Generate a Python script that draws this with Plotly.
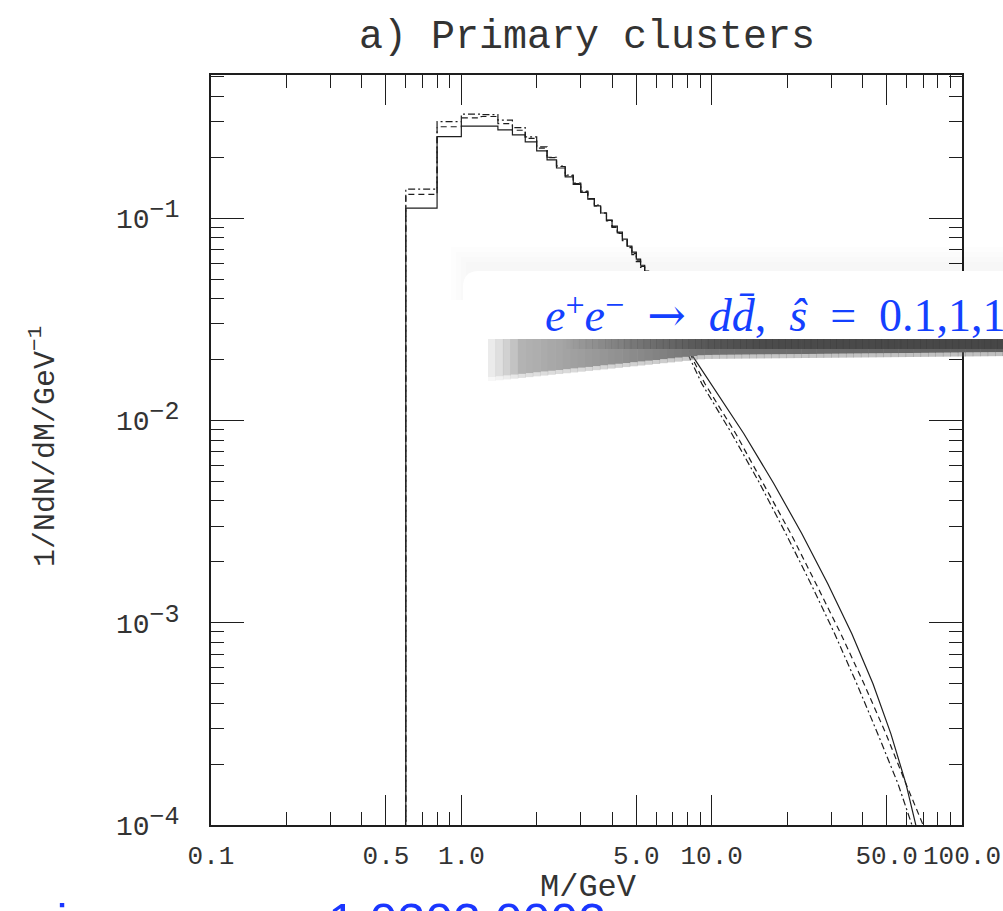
import plotly.graph_objects as go

# ---- data -------------------------------------------------------------
# histogram bin edges (GeV) for the low-mass region
bin_edges = [0.6, 0.8, 1.0, 1.2, 1.4, 1.6, 1.8, 2.0, 2.2, 2.4, 2.6, 2.8, 3.0, 3.2,
             3.4, 3.6, 3.8, 4.0, 4.2, 4.4, 4.6, 4.8, 5.0, 5.2, 5.4, 5.6, 5.8, 6.0]

# 1/N dN/dM per bin, three samples
solid_vals = [0.112, 0.253, 0.285, 0.285, 0.273, 0.258, 0.238, 0.215, 0.194, 0.177,
              0.160, 0.147, 0.134, 0.124, 0.115, 0.106, 0.0977, 0.0913, 0.0853, 0.0787,
              0.0727, 0.0679, 0.0627, 0.0585, 0.0547, 0.0511, 0.0477]
dashed_vals = [0.131, 0.283, 0.313, 0.318, 0.293, 0.272, 0.248, 0.222, 0.199, 0.180,
               0.162, 0.148, 0.135, 0.125, 0.115, 0.106, 0.0975, 0.0905, 0.0845, 0.078,
               0.072, 0.067, 0.062, 0.0578, 0.054, 0.0505, 0.047]
dashdot_vals = [0.139, 0.300, 0.327, 0.325, 0.305, 0.280, 0.252, 0.225, 0.200, 0.181,
                0.163, 0.149, 0.136, 0.125, 0.116, 0.106, 0.097, 0.0900, 0.0840, 0.0775,
                0.0715, 0.066, 0.061, 0.0570, 0.053, 0.0495, 0.046]

# high-mass tails (fine bins, drawn as lines)
tail_y = [0.01525, 0.00862, 0.00488, 0.00276, 0.00156, 0.000882, 0.000499,
          0.000282, 0.000160, 0.0000902]
solid_tail_m = [9.91, 13.43, 17.7, 22.9, 29.1, 36.3, 44.1, 52.0, 59.7, 66.7]
dashed_tail_m = [9.38, 12.47, 16.1, 20.7, 26.1, 32.8, 40.6, 49.7, 59.7, 72.4]
dashdot_tail_m = [9.12, 12.02, 15.56, 19.77, 24.9, 31.0, 38.0, 46.1, 55.5, 64.9]
solid_mid = ([7.87], [0.0235])   # point just under the label strip

x_tickvals = [0.1, 0.5, 1, 5, 10, 50, 100]
x_ticktext = ["0.1", "0.5", "1.0", "5.0", "10.0", "50.0", "100.0"]
y_tickvals = [1e-4, 1e-3, 1e-2, 1e-1]
y_exponents = ["−4", "−3", "−2", "−1"]

title_text = "a) Primary clusters"
x_title = "M/GeV"
y_title = "1/NdN/dM/GeV<sup>−1</sup>"
SUP = "<span style='font-size:34px;baseline-shift:45%'>{}</span>"
banner_text = ("<i>e</i>" + SUP.format("+") + "<i>e</i>" + SUP.format("−") + "\u2002"
               "<span style='font-family:DejaVu Serif'>→</span>\u2002"
               "<i>d</i><i>d\u0304</i>,\u2002<i>ŝ</i>\u2002=\u20020.1,1,10,100")
footer_text = "version: rev. no. 1.0302.0002"

# ---- helpers ------------------------------------------------------------
W, H = 1003, 911
ML, MR, MT, MB = 211, 41, 75, 86
PW, PH = W - ML - MR, H - MT - MB


def px(x):
    return (x - ML) / PW


def py(y):
    return (H - MB - y) / PH


def step_line(edges, vals, tail_m, tail_y):
    xs, ys = [edges[0]], [1e-7]
    for lo, hi, v in zip(edges[:-1], edges[1:], vals):
        xs += [lo, hi]
        ys += [v, v]
    return xs + list(tail_m), ys + list(tail_y)


INK = "#1e1e1e"
MONO = "Liberation Mono"

fig = go.Figure()
series = [
    (dashdot_vals, dashdot_tail_m, tail_y, "7px,3px,2px,3px"),
    (dashed_vals, dashed_tail_m, tail_y, "6px,4px"),
    (solid_vals, solid_mid[0] + solid_tail_m, solid_mid[1] + tail_y, "solid"),
]
for vals, tm, ty, dash in series:
    xs, ys = step_line(bin_edges, vals, tm, ty)
    fig.add_trace(go.Scatter(x=xs, y=ys, mode="lines",
                             line=dict(color=INK, width=1.2, dash=dash),
                             showlegend=False, hoverinfo="skip"))

# minor tick positions
x_minor = [m * d for d in (0.1, 1, 10) for m in (2, 3, 4, 6, 7, 8, 9)]
y_minor = [m * d for d in (1e-4, 1e-3, 1e-2, 1e-1) for m in range(2, 10) if m * d < 0.51]
y_ticktext = [f"10<span style='font-size:25px;baseline-shift:45%'>{e}</span>"
              for e in y_exponents]

axis_common = dict(type="log", showline=True, linecolor=INK, linewidth=1.6,
                   mirror="ticks", ticks="inside", tickwidth=1, tickcolor=INK,
                   showgrid=False, zeroline=False, automargin=False)

fig.update_layout(
    width=W, height=H,
    margin=dict(l=ML, r=MR, t=MT, b=MB, pad=0),
    paper_bgcolor="white", plot_bgcolor="white",
    xaxis=dict(axis_common, range=[-1, 2], ticklen=30,
               tickmode="array", tickvals=x_tickvals, ticktext=x_ticktext,
               tickfont=dict(family=MONO, size=26, color="#333"),
               ticklabelstandoff=6,
               minor=dict(tickmode="array", tickvals=x_minor, ticks="inside",
                          ticklen=13, tickwidth=1, tickcolor=INK, showgrid=False)),
    yaxis=dict(axis_common, range=[-4, -0.2924], ticklen=33,
               tickmode="array", tickvals=y_tickvals, ticktext=y_ticktext,
               tickfont=dict(family=MONO, size=28, color="#333"),
               ticklabelstandoff=24,
               minor=dict(tickmode="array", tickvals=y_minor, ticks="inside",
                          ticklen=13, tickwidth=1, tickcolor=INK, showgrid=False)),
)

# ---- pasted label strip with its shadow ---------------------------------
shapes = []
# faint soft haze around the strip
for k in range(4):
    g = 5 * k
    shapes.append(dict(type="rect", xref="paper", yref="paper",
                       x0=px(466 - g), x1=px(1030), y0=py(300), y1=py(262 - g),
                       fillcolor="rgba(0,0,0,0.008)", line_width=0, layer="above"))
# grey smudge under the strip, built from thin slices
N = 70
x_start, x_end = 488.0, 1010.0
for i in range(N):
    xa = x_start + i * (x_end - x_start) / N
    xb = x_start + (i + 1) * (x_end - x_start) / N + 0.6
    if xa < 700:
        f = (xa - x_start) / (700 - x_start)
        bottom = 377 - 22 * f
        level = int(190 - 75 * f)
        alpha = min(1.0, 0.3 + 0.7 * min(1.0, (xa - x_start) / 30))
    else:
        f = (xa - 700) / (x_end - 700)
        bottom = 355 - 3 * f
        level = int(115 - 20 * f)
        alpha = 1.0
    shapes.append(dict(type="rect", xref="paper", yref="paper", x0=px(xa), x1=px(xb),
                       y0=py(bottom), y1=py(336),
                       fillcolor=f"rgba({level},{level},{level},{alpha:.2f})",
                       line_width=0, layer="above"))
    # soft lower fringe
    shapes.append(dict(type="rect", xref="paper", yref="paper", x0=px(xa), x1=px(xb),
                       y0=py(bottom + 4), y1=py(bottom),
                       fillcolor=f"rgba({level},{level},{level},{0.4 * alpha:.2f})",
                       line_width=0, layer="above"))
# darker core of the shadow
for i in range(N):
    xa = 560 + i * (x_end - 560) / N
    xb = 560 + (i + 1) * (x_end - 560) / N + 0.6
    a = min(0.7, 0.7 * (xa - 560) / 200)
    shapes.append(dict(type="rect", xref="paper", yref="paper", x0=px(xa), x1=px(xb),
                       y0=py(349), y1=py(336),
                       fillcolor=f"rgba(60,60,60,{a:.2f})", line_width=0, layer="above"))
# white strip with rounded left end
x0, x1, y0, y1 = px(463), px(1030), py(339), py(271)
rx, ry = 16 / PW, 16 / PH
strip = (f"M {x0 + rx},{y1} L {x1},{y1} L {x1},{y0} L {x0 + rx},{y0} "
         f"Q {x0},{y0} {x0},{y0 + ry} L {x0},{y1 - ry} Q {x0},{y1} {x0 + rx},{y1} Z")
shapes.append(dict(type="path", xref="paper", yref="paper", path=strip,
                   fillcolor="white", line_width=0, layer="above"))
fig.update_layout(shapes=shapes)

# ---- text ----------------------------------------------------------------
fig.add_annotation(text=title_text, xref="paper", yref="paper", x=px(587), y=py(37),
                   xanchor="center", yanchor="middle", showarrow=False,
                   font=dict(family=MONO, size=40, color="#333"))
fig.add_annotation(text=x_title, xref="paper", yref="paper", x=px(588), y=py(887),
                   xanchor="center", yanchor="middle", showarrow=False,
                   font=dict(family=MONO, size=32, color="#333"))
fig.add_annotation(text=y_title, xref="paper", yref="paper", x=px(43), y=py(447),
                   xanchor="center", yanchor="middle", textangle=-90, showarrow=False,
                   font=dict(family=MONO, size=30, color="#333"))
fig.add_annotation(text=banner_text, xref="paper", yref="paper", x=px(543), y=py(314),
                   xanchor="left", yanchor="middle", showarrow=False,
                   font=dict(family="Liberation Serif", size=46, color="#1440ff"))
fig.add_annotation(text=footer_text, xref="paper", yref="paper", x=px(-40), y=py(922),
                   xanchor="left", yanchor="middle", showarrow=False,
                   font=dict(family="Liberation Sans", size=50, color="#1a36ff"))

fig.write_html("out.html")
